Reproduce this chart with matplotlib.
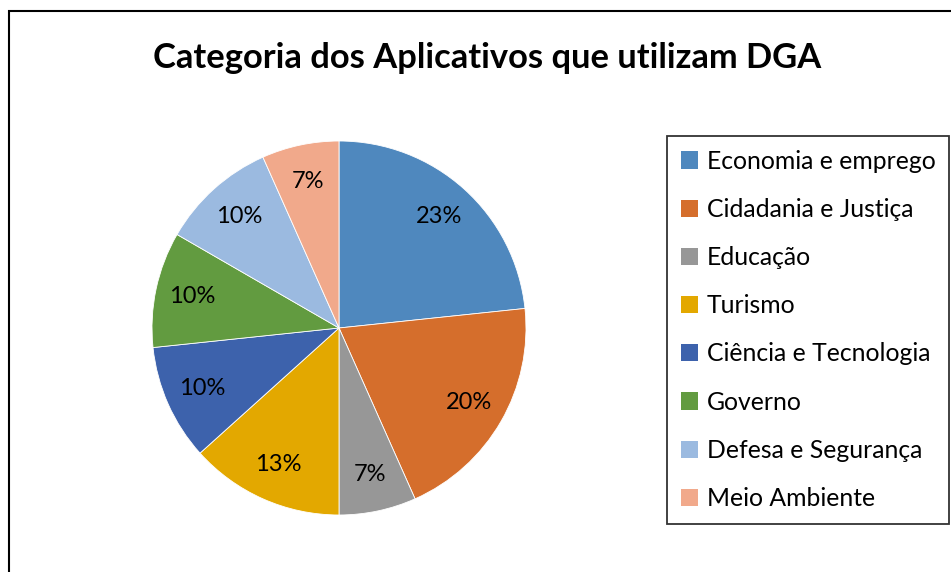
import matplotlib
matplotlib.use("Agg")
import matplotlib.pyplot as plt
from matplotlib.patches import Rectangle, Patch

plt.rcParams['font.family'] = ['Lato', 'DejaVu Sans']

# Categories and app counts (30 apps in total)
categories = ["Economia e emprego", "Cidadania e Justiça", "Educação", "Turismo",
              "Ciência e Tecnologia", "Governo", "Defesa e Segurança", "Meio Ambiente"]
counts = [7, 6, 2, 4, 3, 3, 3, 2]
colors = ["#4F88BE", "#D56E2C", "#979797", "#E3A800",
          "#3D62AC", "#629B40", "#9BBAE0", "#F1A98B"]

W, H = 951, 572
fig = plt.figure(figsize=(W / 100, H / 100), dpi=100)

# pie centre (339, 328) px, radius 187 px
cx, cy, r = 339, 328, 187
ax = fig.add_axes([(cx - r) / W, (H - cy - r) / H, 2 * r / W, 2 * r / H])
wedges, texts, autotexts = ax.pie(
    counts, colors=colors, startangle=90, counterclock=False,
    autopct=lambda p: f"{p:.0f}%", pctdistance=0.8,
    wedgeprops=dict(edgecolor="white", linewidth=0.6),
    textprops=dict(fontsize=17, color="black"))
ax.set_xlim(-1.0, 1.0)
ax.set_ylim(-1.0, 1.0)
ax.set_aspect("equal")
for w in wedges:
    w.set_clip_on(False)

fig.text(487 / W, 1 - 58 / H, "Categoria dos Aplicativos que utilizam DGA",
         ha="center", va="center", fontsize=24.8, fontweight="bold")

handles = [Patch(facecolor=c, edgecolor="none") for c in colors]
leg = fig.legend(handles, categories, loc="upper left",
                 bbox_to_anchor=(667 / W, 1 - 136 / H),
                 frameon=True, fancybox=False, fontsize=17.8,
                 handlelength=0.7, handleheight=0.7, handletextpad=0.35,
                 labelspacing=1.02, borderpad=0.55, borderaxespad=0)
leg.get_frame().set_edgecolor("black")
leg.get_frame().set_linewidth(1.3)

# outer chart border
fig.patches.append(Rectangle((9 / W, -0.05), 1.1, 1.05 - 11 / H,
                             transform=fig.transFigure, fill=False,
                             edgecolor="black", linewidth=1.5))

fig.savefig("out.png", dpi=100)
